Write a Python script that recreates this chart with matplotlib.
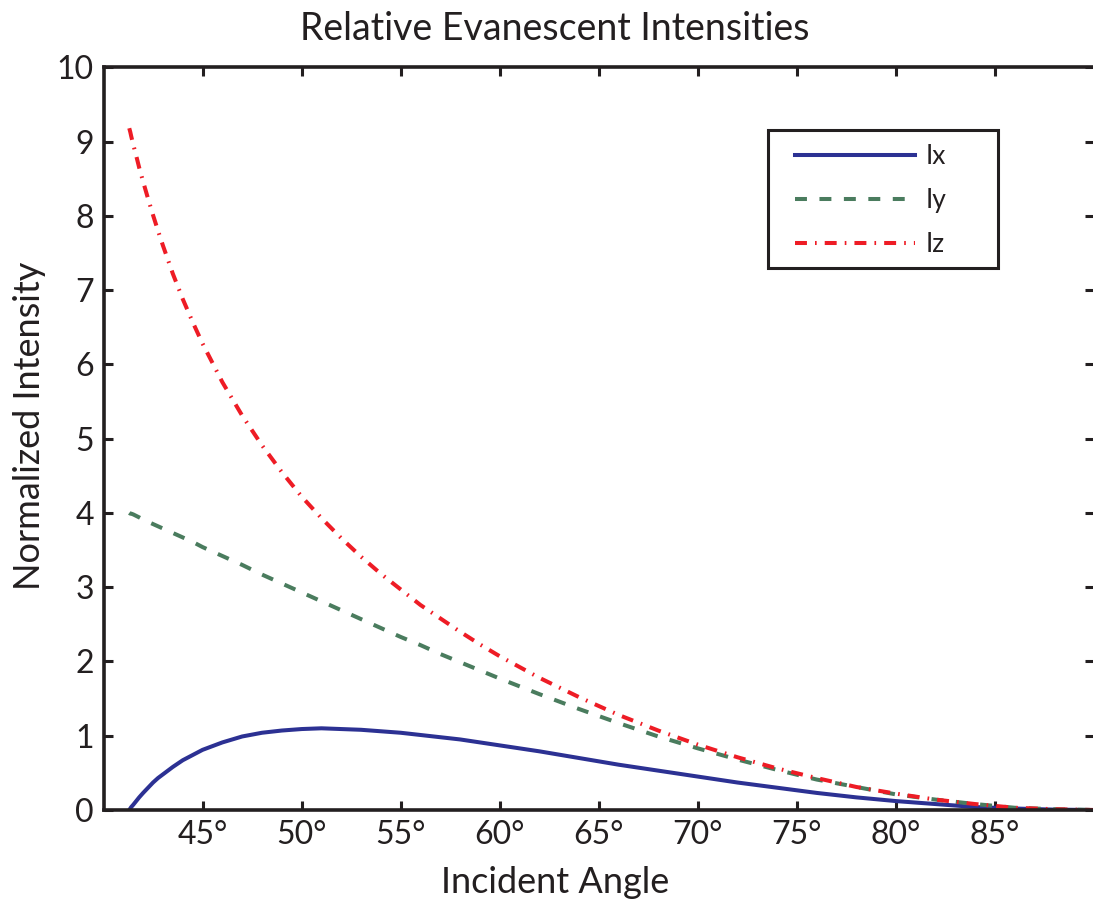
import matplotlib
matplotlib.use('Agg')
from matplotlib import pyplot as plt
from matplotlib.patches import Rectangle
from matplotlib.ticker import FixedLocator

plt.rcParams['font.family'] = ['Lato', 'DejaVu Sans']
plt.rcParams['lines.scale_dashes'] = False

# incident angle (degrees) and normalized evanescent intensities
angle = [41.3, 41.35, 41.4, 41.5, 41.65, 41.8, 42, 42.25, 42.5, 42.75, 43, 43.5,
         44, 44.5, 45, 46, 47, 48, 49, 50, 51, 52, 53, 54, 55, 56, 57, 58, 59,
         60, 62, 64, 66, 68, 70, 72, 74, 76, 78, 80, 82, 84, 86, 88, 90]
ix = [0, 0.02, 0.04, 0.07, 0.12, 0.17, 0.23, 0.30, 0.37, 0.43, 0.48, 0.58,
      0.67, 0.74, 0.81, 0.91, 0.99, 1.04, 1.07, 1.09, 1.10, 1.09, 1.08, 1.06,
      1.04, 1.01, 0.98, 0.95, 0.91, 0.87, 0.79, 0.70, 0.61, 0.53, 0.45, 0.37,
      0.30, 0.23, 0.17, 0.12, 0.08, 0.04, 0.02, 0.005, 0]
iy = [4.00, 3.99, 3.99, 3.98, 3.96, 3.94, 3.91, 3.88, 3.85, 3.82, 3.79, 3.73,
      3.67, 3.61, 3.54, 3.42, 3.30, 3.17, 3.05, 2.93, 2.81, 2.69, 2.57, 2.45,
      2.33, 2.22, 2.10, 1.99, 1.88, 1.77, 1.56, 1.36, 1.17, 0.99, 0.83, 0.68,
      0.54, 0.41, 0.31, 0.21, 0.14, 0.08, 0.03, 0.01, 0]
iz = [9.18, 9.13, 9.07, 8.96, 8.81, 8.65, 8.46, 8.23, 8.01, 7.80, 7.60, 7.22,
      6.88, 6.57, 6.28, 5.76, 5.31, 4.91, 4.55, 4.22, 3.93, 3.66, 3.41, 3.18,
      2.97, 2.76, 2.58, 2.40, 2.23, 2.07, 1.78, 1.52, 1.28, 1.07, 0.88, 0.71,
      0.56, 0.43, 0.31, 0.22, 0.14, 0.08, 0.03, 0.01, 0]

xticks = [45, 50, 55, 60, 65, 70, 75, 80, 85]
xticklabels = ['45°', '50°', '55°', '60°', '65°', '70°', '75°', '80°', '85°']

ink = '#231f20'

fig = plt.figure(figsize=(10.93, 9.01), dpi=100)
ax = fig.add_axes([0.0947, 0.101, 0.9063, 0.8243])

ax.plot(angle, ix, color='#2c3193', linewidth=2.9, label='Ix')
ax.plot(angle, iy, color='#4a7c5e', linewidth=2.9, dashes=(8.6, 9), label='Iy')
ax.plot(angle, iz, color='#ee1c25', linewidth=2.9, dashes=(8.6, 5.8, 1.2, 5.8), label='Iz')

ax.set_xlim(40, 90)
ax.set_ylim(0, 10)
ax.xaxis.set_major_locator(FixedLocator(xticks))
ax.set_xticklabels(xticklabels)
ax.set_yticks(range(0, 11))

for s in ax.spines.values():
    s.set_linewidth(2.6)
    s.set_color(ink)
ax.tick_params(direction='in', length=6.5, width=2.2, color=ink,
               top=True, right=True, labelsize=23, labelcolor=ink, pad=7)

ax.set_title('Relative Evanescent Intensities', fontsize=27, color=ink,
             x=0.4558, y=1.0368, pad=0)
ax.set_xlabel('Incident Angle', fontsize=26, color=ink)
ax.xaxis.set_label_coords(0.4558, -0.0754)
ax.set_ylabel('Normalized Intensity', fontsize=26, color=ink)
ax.yaxis.set_label_coords(-0.058, 0.517)

# legend box drawn separately so the padding can be set on each side
box = Rectangle((0.6709, 0.7298), 0.2322, 0.1858, transform=ax.transAxes,
                facecolor='white', edgecolor=ink, linewidth=2.2, zorder=4)
ax.add_patch(box)
leg = ax.legend(loc='upper left', bbox_to_anchor=(0.6981, 0.8962),
                borderaxespad=0, borderpad=0, fontsize=19, handlelength=4.55,
                handletextpad=0.4, labelspacing=0.72, frameon=False)
leg.set_zorder(5)
for t in leg.get_texts():
    t.set_color(ink)

plt.savefig('out.png', dpi=100)
